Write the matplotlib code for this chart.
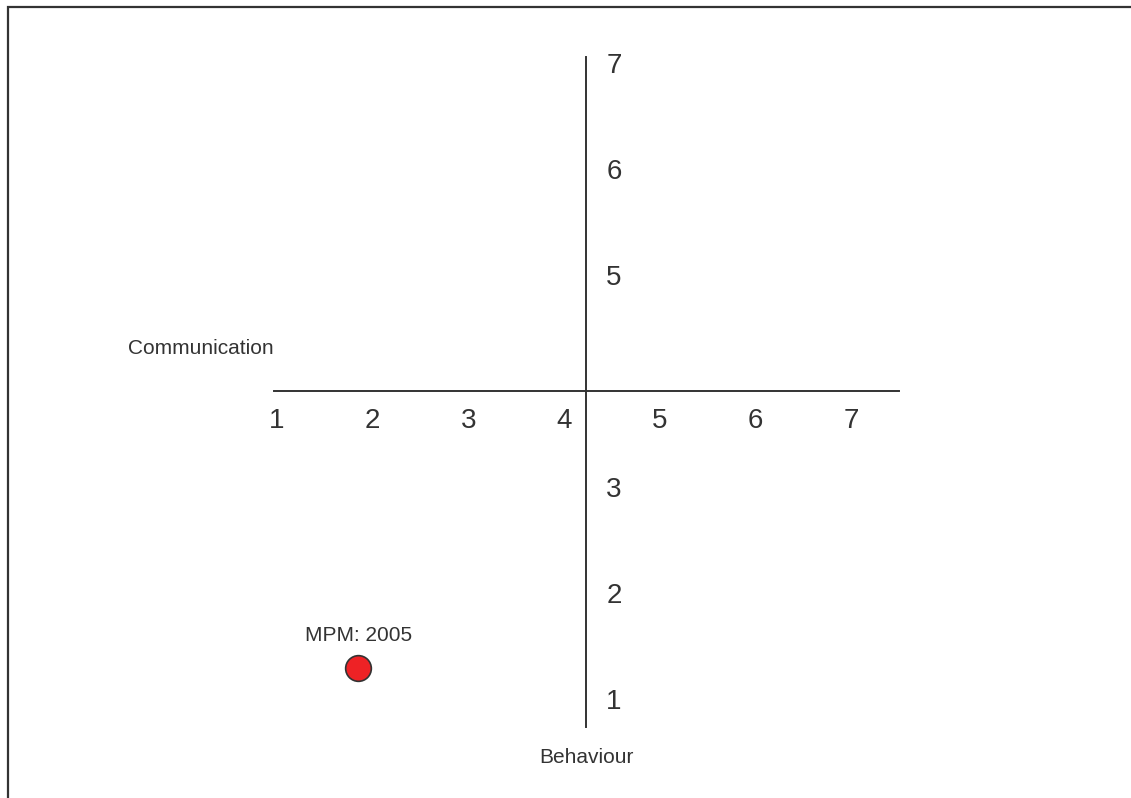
import matplotlib
matplotlib.use("Agg")
import matplotlib.pyplot as plt
from matplotlib.patches import Rectangle

plt.rcParams["font.family"] = ["Liberation Sans", "DejaVu Sans"]

# Data
x_ticks = [1, 2, 3, 4, 5, 6, 7]
y_ticks = [1, 2, 3, 5, 6, 7]
point_x = [1.85]
point_y = [1.32]
point_labels = ["MPM: 2005"]
cross_x = 4.23     # where the vertical axis sits on the x scale
cross_y = 3.94     # where the horizontal axis sits on the y scale

ink = "#333333"

fig = plt.figure(figsize=(11.31, 7.98), dpi=100)
ax = fig.add_axes([0, 0, 1, 1])
ax.set_xlim(-1.894, 9.924)
ax.set_ylim(0.096, 7.625)
ax.axis("off")

# frame round the whole picture (runs off the right and bottom edge)
fig.patches.append(Rectangle((8 / 1131, -0.05), 1.2, 1 - 7 / 798 + 0.05,
                             transform=fig.transFigure, fill=False,
                             edgecolor=ink, linewidth=1.6))

# the two crossing axes
ax.plot([0.97, 7.5], [cross_y, cross_y], color=ink, linewidth=1.4)
ax.plot([cross_x, cross_x], [0.77, 7.09], color=ink, linewidth=1.4)

for v in x_ticks:
    ax.text(v, 3.65, str(v), fontsize=20, color=ink, ha="center", va="center")
for v in y_ticks:
    ax.text(4.52, v, str(v), fontsize=20, color=ink, ha="center", va="center")

ax.text(0.2, 4.34, "Communication", fontsize=15, color=ink, ha="center", va="center")
ax.text(cross_x, 0.48, "Behaviour", fontsize=15, color=ink, ha="center", va="center")

ax.plot(point_x, point_y, "o", markersize=18.5, markerfacecolor="#ee2225",
        markeredgecolor=ink, markeredgewidth=1.2)
for px, py, lab in zip(point_x, point_y, point_labels):
    ax.text(px, py + 0.31, lab, fontsize=15, color=ink, ha="center", va="center")

fig.savefig("out.png", dpi=100)
